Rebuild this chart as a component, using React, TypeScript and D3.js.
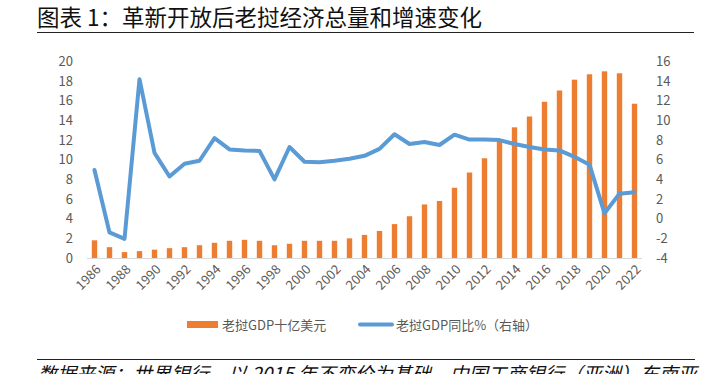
import React from 'react';
import * as d3 from 'd3';

// 年份
const years = d3.range(1986, 2023).map(String);
// 老挝GDP（十亿美元，2015年不变价）
const gdp = [1.8, 1.1, 0.6, 0.7, 0.85, 1.0, 1.1, 1.3, 1.55, 1.75, 1.85, 1.75, 1.3, 1.45,
  1.75, 1.75, 1.75, 2.0, 2.35, 2.75, 3.45, 4.25, 5.45, 5.8, 7.15, 8.7, 10.15, 12.0,
  13.3, 14.4, 15.9, 17.05, 18.15, 18.7, 19.0, 18.8, 15.7];
// 老挝GDP同比增速（%）
const growth = [4.95, -1.4, -2.05, 14.2, 6.7, 4.3, 5.6, 5.9, 8.2, 7.05, 6.95, 6.9, 4.0, 7.3,
  5.8, 5.75, 5.9, 6.1, 6.4, 7.1, 8.6, 7.6, 7.8, 7.5, 8.55, 8.05, 8.05, 8.0,
  7.6, 7.3, 7.05, 6.95, 6.3, 5.5, 0.55, 2.55, 2.7];
const leftTicks = d3.range(0, 21, 2);
const rightTicks = d3.range(-4, 17, 2);
const xLabels = years.filter((d, i) => i % 2 === 0);

const W = 718, H = 374;
const cjk = '"Noto Sans CJK SC", "Noto Sans", sans-serif';
const gray = '#595959';

export default function App() {
  const x = d3.scaleBand().domain(years).range([87, 642]).padding(0);
  const yL = d3.scaleLinear().domain([0, 20]).range([258, 61.5]);
  const yR = d3.scaleLinear().domain([-4, 16]).range([258, 61.5]);
  const bw = x.bandwidth() * 0.36;
  const cx = (d: string) => (x(d) as number) + x.bandwidth() / 2;
  const line = d3.line<number>()
    .x((d, i) => cx(years[i]))
    .y(d => yR(d));

  return (
    <svg width={W} height={H} style={{ position: 'absolute', left: 0, top: 0, background: '#fff' }}>
      <text x={37} y={26} fontFamily={cjk} fontSize={22.5} fill="#111">图表 1：革新开放后老挝经济总量和增速变化</text>
      <line x1={37} x2={694} y1={32.5} y2={32.5} stroke="#222" strokeWidth={1.2} />

      {gdp.map((v, i) => (
        <rect key={i} x={cx(years[i]) - bw / 2} y={yL(v)} width={bw} height={yL(0) - yL(v)} fill="#ED7D31" />
      ))}
      <line x1={87} x2={642} y1={258.5} y2={258.5} stroke="#D9D9D9" strokeWidth={1} />
      <path d={line(growth) || ''} fill="none" stroke="#5B9BD5" strokeWidth={4} strokeLinejoin="round" strokeLinecap="round" />

      {leftTicks.map(t => (
        <text key={t} x={73} y={yL(t)} dy="0.35em" textAnchor="end" fontFamily={cjk} fontSize={13} fill={gray}>{t}</text>
      ))}
      {rightTicks.map(t => (
        <text key={t} x={656} y={yR(t)} dy="0.35em" textAnchor="start" fontFamily={cjk} fontSize={13} fill={gray}>{t}</text>
      ))}
      {xLabels.map(d => (
        <text key={d} transform={`translate(${cx(d) + 4},${267}) rotate(-45)`} textAnchor="end" dy="0.35em"
          fontFamily={cjk} fontSize={13} fill={gray}>{d}</text>
      ))}

      <rect x={187} y={321} width={31} height={7} fill="#ED7D31" />
      <text x={222} y={325} dy="0.35em" fontFamily={cjk} fontSize={13} fill={gray}>老挝GDP十亿美元</text>
      <line x1={360} x2={392} y1={324.5} y2={324.5} stroke="#5B9BD5" strokeWidth={4} strokeLinecap="round" />
      <text x={396} y={325} dy="0.35em" fontFamily={cjk} fontSize={13} fill={gray}>老挝GDP同比%（右轴）</text>

      <line x1={37} x2={695} y1={359.5} y2={359.5} stroke="#222" strokeWidth={1.2} />
      <text x={38} y={381} fontFamily={cjk} fontSize={19} fontStyle="italic" fill="#111">数据来源：世界银行，以 2015 年不变价为基础，中国工商银行（亚洲）东南亚</text>
    </svg>
  );
}
